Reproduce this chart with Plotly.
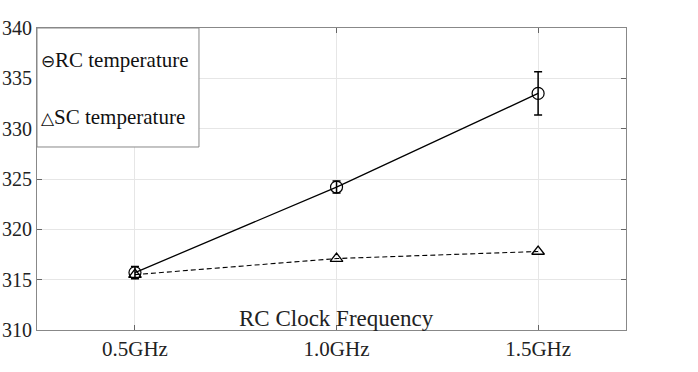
import plotly.graph_objects as go

freq = [0.5, 1.0, 1.5]
freq_labels = ['0.5GHz', '1.0GHz', '1.5GHz']
rc_temp = [315.7, 324.2, 333.5]
rc_err = [0.6, 0.6, 2.15]
sc_temp = [315.5, 317.1, 317.8]
y_ticks = [310, 315, 320, 325, 330, 335, 340]

serif = 'Liberation Serif, Times New Roman, serif'

fig = go.Figure()

fig.add_trace(go.Scatter(
    x=freq, y=rc_temp,
    mode='lines+markers',
    name='RC temperature',
    line={'color': 'black', 'width': 1.3},
    marker={'symbol': 'circle-open', 'size': 12, 'color': 'black',
            'line': {'width': 1.2}},
    error_y={'type': 'data', 'array': rc_err, 'color': 'black',
             'thickness': 1.5, 'width': 4},
))

fig.add_trace(go.Scatter(
    x=freq, y=sc_temp,
    mode='lines+markers',
    name='SC temperature',
    line={'color': 'black', 'width': 1.1, 'dash': '5px,3px'},
    marker={'symbol': 'triangle-up-open', 'size': 11, 'color': 'black',
            'line': {'width': 1.3}},
))

# legend box drawn by hand, like the matlab one
fig.add_shape(
    type='rect', xref='x domain', yref='y domain',
    x0=0, x1=0.275, y0=0.606, y1=1,
    line={'color': '#888', 'width': 1}, fillcolor='white', layer='above',
)
sym = '<span style="font-size:17px">{}</span>'
fig.add_annotation(
    xref='x domain', yref='y domain', x=0.003, y=0.894,
    text=sym.format('⊖') + 'RC temperature', showarrow=False,
    xanchor='left', yanchor='middle',
    font={'family': serif, 'size': 21, 'color': '#111'},
)
fig.add_annotation(
    xref='x domain', yref='y domain', x=0.003, y=0.705,
    text=sym.format('△') + 'SC temperature', showarrow=False,
    xanchor='left', yanchor='middle',
    font={'family': serif, 'size': 21, 'color': '#111'},
)

fig.add_annotation(
    x=1.0, y=310, xref='x', yref='y',
    text='RC Clock Frequency',
    showarrow=False, yanchor='bottom', yshift=-3,
    font={'family': serif, 'size': 23, 'color': '#222'},
)

fig.update_layout(
    width=698, height=372,
    margin={'l': 37, 'r': 72, 't': 28, 'b': 42},
    plot_bgcolor='white',
    paper_bgcolor='white',
    font={'family': serif, 'size': 21, 'color': '#222'},
    showlegend=False,
    xaxis={
        'range': [0.257, 1.718],
        'tickvals': freq, 'ticktext': freq_labels,
        'showgrid': True, 'gridcolor': '#e6e6e6',
        'ticks': 'inside', 'ticklen': 5, 'tickcolor': '#666',
        'showline': True, 'linecolor': '#888', 'linewidth': 1,
        'mirror': 'ticks', 'zeroline': False,
        'tickfont': {'size': 21},
        'ticklabelstandoff': 0,
        'automargin': False,
    },
    yaxis={
        'range': [310, 340],
        'tickvals': y_ticks,
        'showgrid': True, 'gridcolor': '#e6e6e6',
        'ticks': 'inside', 'ticklen': 5, 'tickcolor': '#666',
        'showline': True, 'linecolor': '#888', 'linewidth': 1,
        'mirror': 'ticks', 'zeroline': False,
        'tickfont': {'size': 20},
        'ticklabelstandoff': 0,
        'automargin': False,
    },
)

fig.write_html('out.html', config={'displayModeBar': False},
               post_script="document.body.style.margin='0px';")
